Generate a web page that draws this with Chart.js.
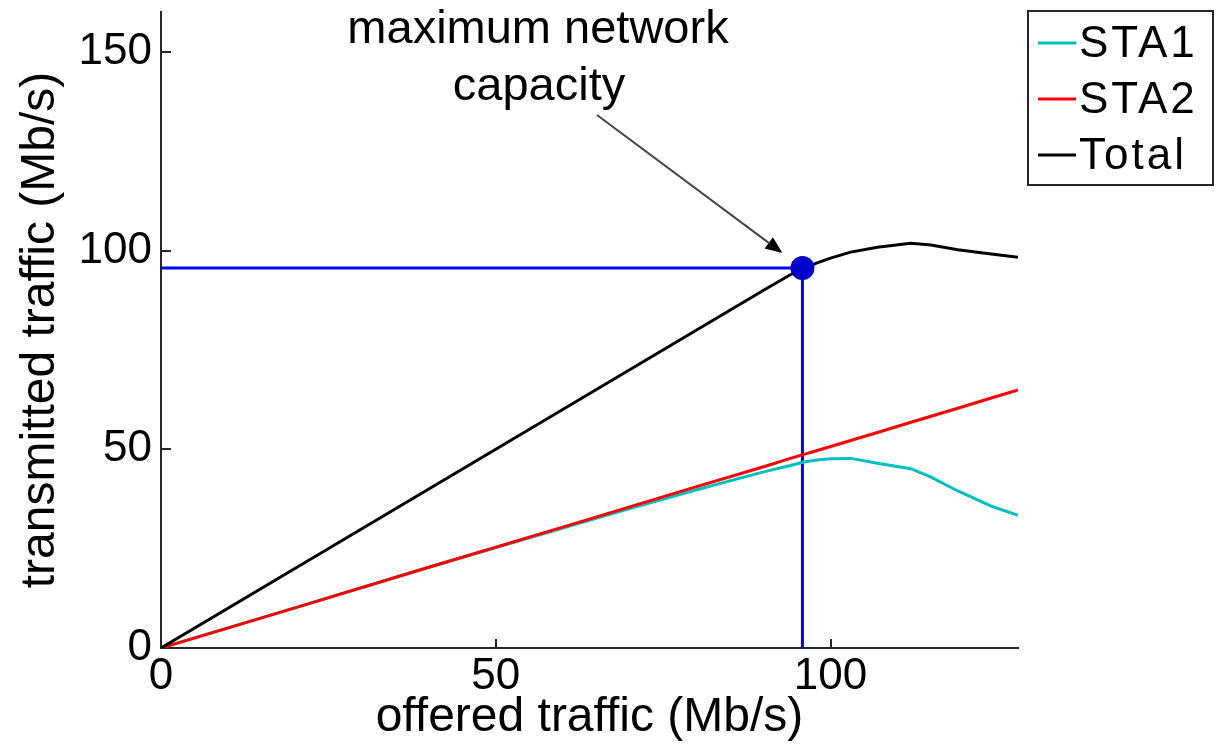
<!DOCTYPE html>
<html>
<head>
<meta charset="utf-8">
<script src="https://cdn.jsdelivr.net/npm/chart.js@4/dist/chart.umd.min.js"></script>
<style>
  html, body { margin: 0; padding: 0; background: #ffffff; }
  canvas { display: block; }
</style>
</head>
<body>
<canvas id="chart" width="1218" height="744"></canvas>
<script>
// Offered traffic (Mb/s) at which each throughput was measured
const offered = [0, 20, 40, 60, 70, 80, 90, 94, 96, 98, 100, 103, 107, 112, 115, 119, 124, 128];
// Transmitted traffic per station and in total (Mb/s)
const sta1  = [0, 10.1, 20.3, 30.2, 35.1, 39.8, 44.3, 45.9, 46.8, 47.3, 47.6, 47.7, 46.5, 45.1, 43.0, 39.5, 35.7, 33.4];
const sta2  = [0, 10.1, 20.3, 30.4, 35.5, 40.6, 45.6, 47.7, 48.7, 49.7, 50.7, 52.2, 54.2, 56.8, 58.3, 60.3, 62.9, 64.9];
const total = [0, 20.0, 40.0, 60.0, 70.0, 80.0, 90.0, 93.9, 95.5, 96.9, 98.1, 99.6, 100.8, 101.8, 101.4, 100.2, 99.1, 98.3];
// Operating point where the network saturates: [offered, transmitted]
const capacity = [95.8, 95.6];

const xTicks = [0, 50, 100];
const yTicks = [0, 50, 100, 150];
const seriesNames = ['STA1', 'STA2', 'Total'];
const noteLines = ['maximum network', 'capacity'];

const FONT = '"Liberation Sans", Arial, Helvetica, sans-serif';
const COLORS = { STA1: '#00BFBF', STA2: '#FF0000', Total: '#000000' };

const toPoints = ys => offered.map((x, i) => ({ x: x, y: ys[i] }));

// Annotation text with an arrow pointing at the saturation point
const notePlugin = {
  id: 'capacityNote',
  afterDatasetsDraw(chart) {
    const ctx = chart.ctx;
    const xs = chart.scales.x, ys = chart.scales.y;
    const px = xs.getPixelForValue(capacity[0]);
    const py = ys.getPixelForValue(capacity[1]);
    const tipX = px - 20, tipY = py - 15;
    const startX = 597, startY = 115;

    ctx.save();
    ctx.fillStyle = '#000';
    ctx.font = '47px ' + FONT;
    ctx.textAlign = 'center';
    ctx.textBaseline = 'alphabetic';
    ctx.fillText(noteLines[0], 538, 43);
    ctx.fillText(noteLines[1], 539, 100);

    const ang = Math.atan2(tipY - startY, tipX - startX);
    const headLen = 17, headHalf = 7;
    const baseX = tipX - headLen * Math.cos(ang);
    const baseY = tipY - headLen * Math.sin(ang);
    ctx.strokeStyle = '#444';
    ctx.lineWidth = 2;
    ctx.beginPath();
    ctx.moveTo(startX, startY);
    ctx.lineTo(baseX, baseY);
    ctx.stroke();
    ctx.fillStyle = '#000';
    ctx.beginPath();
    ctx.moveTo(tipX, tipY);
    ctx.lineTo(baseX + headHalf * Math.sin(ang), baseY - headHalf * Math.cos(ang));
    ctx.lineTo(baseX - headHalf * Math.sin(ang), baseY + headHalf * Math.cos(ang));
    ctx.closePath();
    ctx.fill();
    ctx.restore();
  }
};

// Boxed legend in the upper right corner
const boxLegendPlugin = {
  id: 'boxLegend',
  afterDraw(chart) {
    const ctx = chart.ctx;
    const left = 1028, top = 11, width = 185, height = 174;
    ctx.save();
    ctx.fillStyle = '#fff';
    ctx.fillRect(left, top, width, height);
    ctx.strokeStyle = '#262626';
    ctx.lineWidth = 2;
    ctx.strokeRect(left, top, width, height);
    ctx.font = '44px ' + FONT;
    ctx.letterSpacing = '3px';
    ctx.textAlign = 'left';
    ctx.textBaseline = 'middle';
    seriesNames.forEach((name, i) => {
      const ds = chart.data.datasets.find(d => d.label === name);
      const y = 43 + i * 56;
      ctx.strokeStyle = ds.borderColor;
      ctx.lineWidth = 3;
      ctx.beginPath();
      ctx.moveTo(1038, y);
      ctx.lineTo(1076, y);
      ctx.stroke();
      ctx.fillStyle = '#000';
      ctx.fillText(name, 1079, y + 2);
    });
    ctx.restore();
  }
};

const lineStyle = { showLine: true, pointRadius: 0, pointHoverRadius: 0, borderWidth: 3, tension: 0, fill: false };

new Chart(document.getElementById('chart'), {
  type: 'scatter',
  data: {
    datasets: [
      { label: 'capacity point', data: [{ x: capacity[0], y: capacity[1] }], showLine: false,
        pointRadius: 12, pointHoverRadius: 12, backgroundColor: '#0000CC', borderWidth: 0 },
      Object.assign({ label: 'Total', data: toPoints(total), borderColor: COLORS.Total }, lineStyle),
      Object.assign({ label: 'STA2', data: toPoints(sta2), borderColor: COLORS.STA2 }, lineStyle),
      Object.assign({ label: 'STA1', data: toPoints(sta1), borderColor: COLORS.STA1 }, lineStyle),
      Object.assign({ label: 'capacity guides',
        data: [{ x: 0, y: capacity[1] }, { x: capacity[0], y: capacity[1] }, { x: capacity[0], y: 0 }],
        borderColor: '#0000FF' }, lineStyle)
    ]
  },
  options: {
    responsive: false,
    devicePixelRatio: 1,
    animation: false,
    events: [],
    layout: { padding: { top: 11, right: 200, left: 0, bottom: 0 } },
    plugins: { legend: { display: false }, tooltip: { enabled: false } },
    scales: {
      x: {
        type: 'linear', min: 0, max: 128,
        afterBuildTicks: s => { s.ticks = xTicks.map(v => ({ value: v })); },
        afterFit: s => { s.height = 96; s.paddingLeft = 0; s.paddingRight = 0; },
        grid: { drawOnChartArea: false, drawTicks: true, tickLength: -9, color: '#262626', lineWidth: 2 },
        border: { display: true, color: '#262626', width: 2 },
        ticks: { padding: 11, color: '#000', font: { family: FONT, size: 44 }, maxRotation: 0 },
        title: { display: true, text: 'offered traffic (Mb/s)', color: '#000',
                 font: { family: FONT, size: 48, lineHeight: 1 }, padding: { top: 0, bottom: 2 } }
      },
      y: {
        type: 'linear', min: 0, max: 160,
        afterBuildTicks: s => { s.ticks = yTicks.map(v => ({ value: v })); },
        afterFit: s => { s.width = 161; s.paddingTop = 0; s.paddingBottom = 0; },
        grid: { drawOnChartArea: false, drawTicks: true, tickLength: -10, color: '#262626', lineWidth: 2 },
        border: { display: true, color: '#262626', width: 2 },
        ticks: { padding: 19, color: '#000', font: { family: FONT, size: 44 } },
        title: { display: true, text: 'transmitted traffic (Mb/s)', color: '#000',
                 font: { family: FONT, size: 48, lineHeight: 1 }, padding: { top: 17, bottom: 0 } }
      }
    }
  },
  plugins: [notePlugin, boxLegendPlugin]
});
</script>
</body>
</html>
